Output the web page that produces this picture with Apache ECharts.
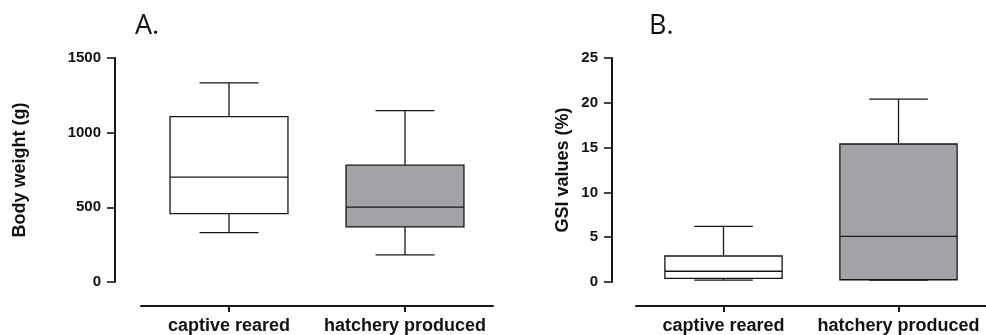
<!DOCTYPE html>
<html>
<head>
<meta charset="utf-8">
<script src="https://cdn.jsdelivr.net/npm/echarts@6/dist/echarts.min.js"></script>
<style>html,body{margin:0;padding:0;background:#fff}#c{width:986px;height:335px}</style>
</head>
<body>
<div id="c"></div>
<script>
// Data
const categories = ['captive reared', 'hatchery produced'];
// [min, Q1, median, Q3, max]
const weightCaptive = [331, 458, 702, 1107, 1333];
const weightHatchery = [182, 369, 502, 782, 1147];
const gsiCaptive = [0.2, 0.4, 1.2, 2.9, 6.2];
const gsiHatchery = [0.2, 0.25, 5.1, 15.4, 20.4];
const weightTicks = [0, 500, 1000, 1500];
const gsiTicks = [0, 5, 10, 15, 20, 25];
const fills = ['#ffffff', '#a3a2a7'];

const chart = echarts.init(document.getElementById('c'));
const ink = '#161616';

function renderBox(params, api) {
  const ci = api.value(0);
  const cx = api.coord([ci, 0])[0];
  const band = api.size([1, 0])[0];
  const bw = band * 0.67;
  const cw = bw / 2;
  const y = [1, 2, 3, 4, 5].map(i => api.coord([ci, api.value(i)])[1]);
  const ls = { stroke: ink, lineWidth: 1.3 };
  return {
    type: 'group',
    children: [
      { type: 'line', shape: { x1: cx, y1: y[0], x2: cx, y2: y[1] }, style: ls },
      { type: 'line', shape: { x1: cx, y1: y[3], x2: cx, y2: y[4] }, style: ls },
      { type: 'line', shape: { x1: cx - cw / 2, y1: y[0], x2: cx + cw / 2, y2: y[0] }, style: ls },
      { type: 'line', shape: { x1: cx - cw / 2, y1: y[4], x2: cx + cw / 2, y2: y[4] }, style: ls },
      { type: 'rect', shape: { x: cx - bw / 2, y: y[3], width: bw, height: y[1] - y[3] },
        style: { fill: fills[ci], stroke: ink, lineWidth: 1.3 } },
      { type: 'line', shape: { x1: cx - bw / 2, y1: y[2], x2: cx + bw / 2, y2: y[2] }, style: ls }
    ]
  };
}

function yAxisCfg(idx, name, ticks, offset, nameGap) {
  return {
    gridIndex: idx, type: 'value', min: ticks[0], max: ticks[ticks.length - 1],
    interval: ticks[1] - ticks[0], offset: offset,
    name: name, nameLocation: 'middle', nameRotate: 90, nameGap: nameGap,
    nameTextStyle: { fontFamily: 'Liberation Sans', fontWeight: 'bold', fontSize: 18, color: '#111' },
    axisLine: { show: true, lineStyle: { color: ink, width: 2 } },
    axisTick: { show: true, length: 8, lineStyle: { color: ink, width: 1.6 } },
    splitLine: { show: false },
    axisLabel: { fontFamily: 'Liberation Sans', fontWeight: 'bold', fontSize: 15, color: '#111', margin: 14,
      formatter: v => String(v) }
  };
}
function xAxisCfg(idx) {
  return {
    gridIndex: idx, type: 'category', data: categories, boundaryGap: true, offset: 24,
    axisLine: { show: true, onZero: false, lineStyle: { color: ink, width: 2 } },
    axisTick: { show: true, alignWithLabel: true, length: 6, lineStyle: { color: ink, width: 2 } },
    axisLabel: { fontFamily: 'Liberation Sans', fontWeight: 'bold', fontSize: 18, color: '#111', margin: 11, interval: 0 },
    splitLine: { show: false }
  };
}

chart.setOption({
  animation: false,
  backgroundColor: '#fff',
  title: [
    { text: 'A.', left: 130, top: 8, textStyle: { fontFamily: 'Open Sans', fontWeight: 'normal', fontSize: 27, color: '#111' } },
    { text: 'B.', left: 644, top: 8, textStyle: { fontFamily: 'Open Sans', fontWeight: 'normal', fontSize: 27, color: '#111' } }
  ],
  grid: [
    { left: 141, top: 58, width: 352, height: 225 },
    { left: 636, top: 58, width: 352, height: 225 }
  ],
  xAxis: [xAxisCfg(0), xAxisCfg(1)],
  yAxis: [
    yAxisCfg(0, 'Body weight (g)', weightTicks, 26, 86),
    yAxisCfg(1, 'GSI values (%)', gsiTicks, 24, 40)
  ],
  series: [
    { type: 'custom', xAxisIndex: 0, yAxisIndex: 0, renderItem: renderBox,
      encode: { x: 0, y: [1, 2, 3, 4, 5] },
      data: [[0].concat(weightCaptive), [1].concat(weightHatchery)] },
    { type: 'custom', xAxisIndex: 1, yAxisIndex: 1, renderItem: renderBox,
      encode: { x: 0, y: [1, 2, 3, 4, 5] },
      data: [[0].concat(gsiCaptive), [1].concat(gsiHatchery)] }
  ]
});
</script>
</body>
</html>
